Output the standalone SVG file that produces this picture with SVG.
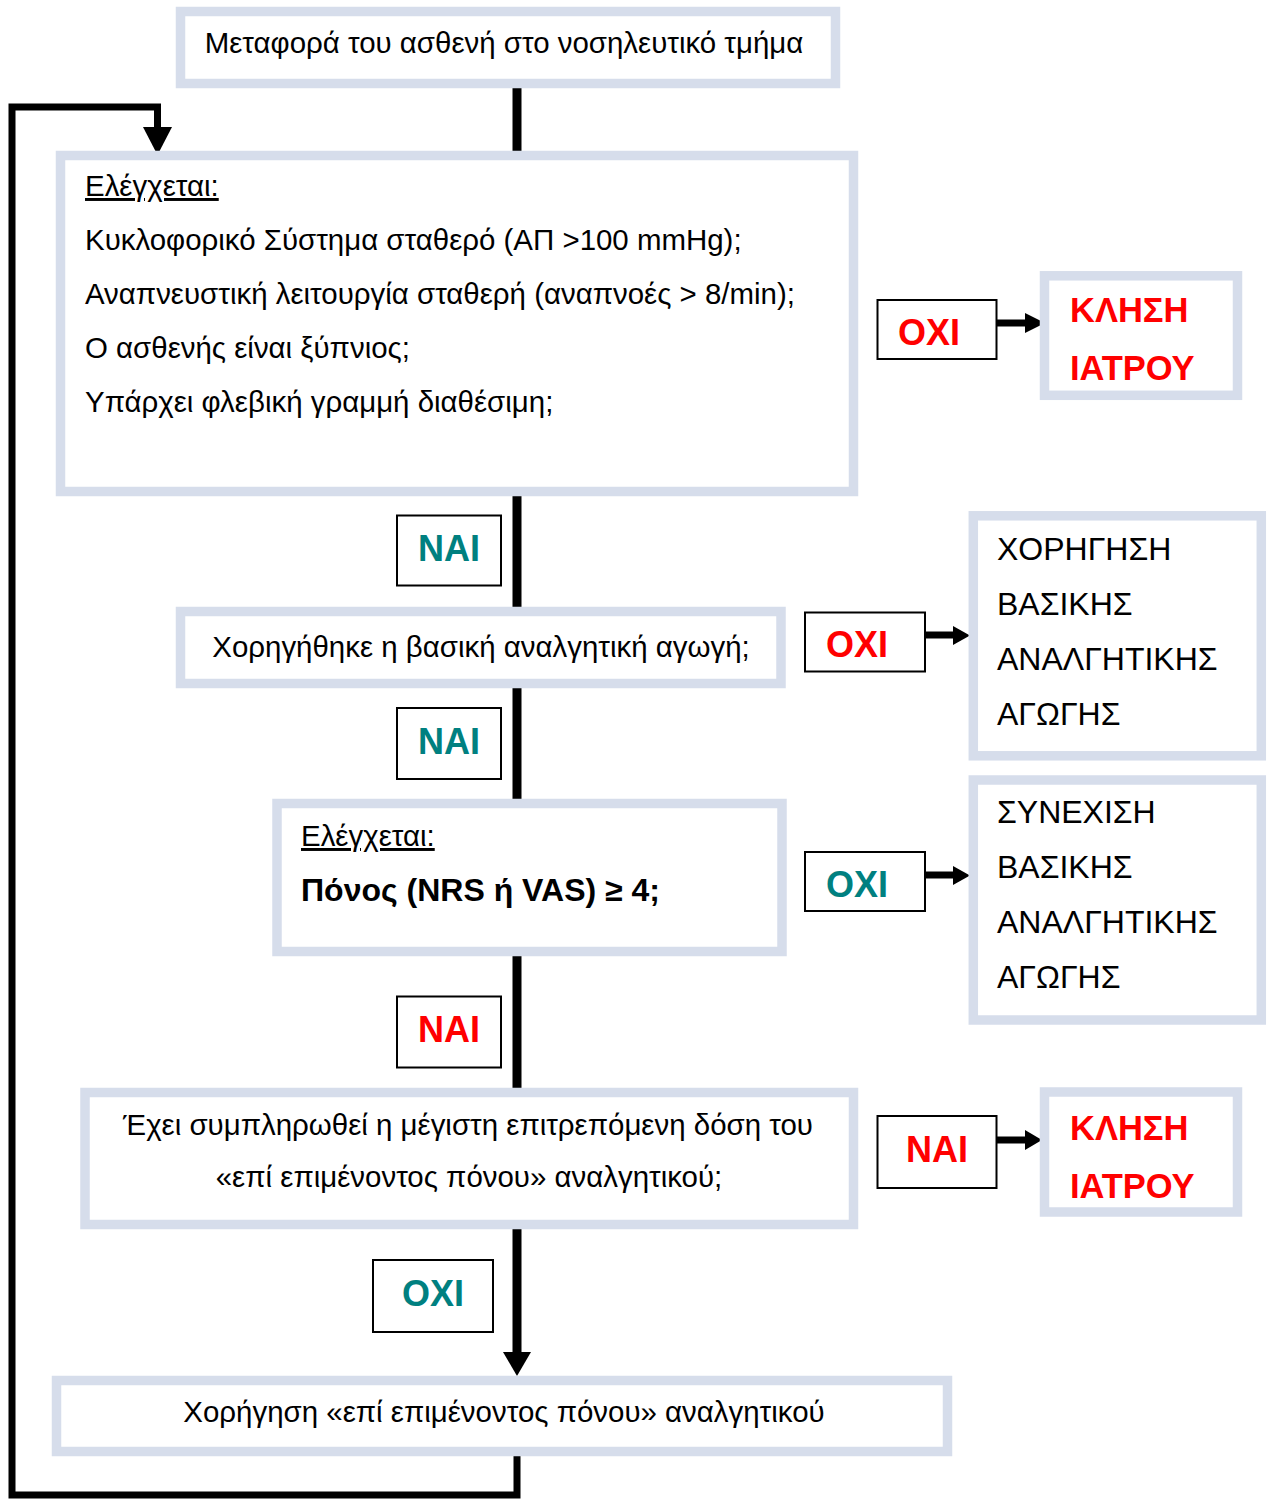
<svg xmlns="http://www.w3.org/2000/svg" width="1271" height="1499" viewBox="0 0 1271 1499">
<style>
.box{fill:#fff;stroke:#D6DDEB;stroke-width:9.5}
.lbl{fill:#fff;stroke:#000;stroke-width:2}
.t{font-family:"Liberation Sans",Arial,sans-serif;font-size:29.45px;fill:#000}
.c{font-family:"Liberation Sans",Arial,sans-serif;font-size:32px;fill:#000}
.b{font-family:"Liberation Sans",Arial,sans-serif;font-weight:bold;font-size:36px}
.k{font-family:"Liberation Sans",Arial,sans-serif;font-weight:bold;font-size:34.5px;fill:#FF0000}
.red{fill:#FF0000}.teal{fill:#008080}
.ln{fill:none;stroke:#000;stroke-width:9}
.lp{fill:none;stroke:#000;stroke-width:7}
.ha{fill:none;stroke:#000;stroke-width:7}
</style>
<rect width="1271" height="1499" fill="#fff"/>
<g id="connectors">
<path class="ln" d="M517,88 V152"/>
<path class="ln" d="M517,496 V608"/>
<path class="ln" d="M517,688 V800"/>
<path class="ln" d="M517,956 V1088"/>
<path class="ln" d="M517,1228 V1354"/>
<polygon points="503,1352 531,1352 517,1376"/>
<path class="lp" d="M517,1456 V1495 H12 V107 H157.5 V128"/>
<polygon points="143,127 172,127 157.5,155"/>
<path class="ha" d="M997,323 H1026"/>
<polygon points="1025,313 1045,323 1025,333"/>
<path class="ha" d="M926,635 H954"/>
<polygon points="953,626 970,635.5 953,645"/>
<path class="ha" d="M926,875 H954"/>
<polygon points="953,866 970,875.5 953,885"/>
<path class="ha" d="M997,1140 H1026"/>
<polygon points="1025,1130 1042,1140 1025,1150"/>
</g>
<g id="n1">
<rect class="box" x="180.5" y="11.5" width="655" height="72"/>
<text class="t" x="504" y="53" text-anchor="middle">Μεταφορά του ασθενή στο νοσηλευτικό τμήμα</text>
</g>
<g id="n2">
<rect class="box" x="60.5" y="155.5" width="793" height="336"/>
<text class="t" x="85" y="196" text-decoration="underline">Ελέγχεται:</text>
<text class="t" x="85" y="250">Κυκλοφορικό Σύστημα σταθερό (ΑΠ &gt;100 mmHg);</text>
<text class="t" x="85" y="304">Αναπνευστική λειτουργία σταθερή (αναπνοές &gt; 8/min);</text>
<text class="t" x="85" y="358">Ο ασθενής είναι ξύπνιος;</text>
<text class="t" x="85" y="412">Υπάρχει φλεβική γραμμή διαθέσιμη;</text>
</g>
<g id="l1">
<rect class="lbl" x="877.5" y="300" width="119" height="59"/>
<text class="b red" x="929" y="345" text-anchor="middle">ΟΧΙ</text>
</g>
<g id="n3">
<rect class="box" x="1044.5" y="275.8" width="193" height="119.5"/>
<text class="k" x="1070" y="322">ΚΛΗΣΗ</text>
<text class="k" x="1070" y="380">ΙΑΤΡΟΥ</text>
</g>
<g id="l2">
<rect class="lbl" x="397" y="515.5" width="104" height="70"/>
<text class="b teal" x="449" y="561" text-anchor="middle">ΝΑΙ</text>
</g>
<g id="n4">
<rect class="box" x="180.5" y="611.5" width="600.5" height="72"/>
<text class="t" x="481" y="657" text-anchor="middle">Χορηγήθηκε η βασική αναλγητική αγωγή;</text>
</g>
<g id="l3">
<rect class="lbl" x="805" y="612.5" width="120" height="59"/>
<text class="b red" x="857" y="657" text-anchor="middle">ΟΧΙ</text>
</g>
<g id="n5">
<rect class="box" x="973.3" y="515.8" width="288" height="240"/>
<text class="c" x="997" y="560">ΧΟΡΗΓΗΣΗ</text>
<text class="c" x="997" y="615">ΒΑΣΙΚΗΣ</text>
<text class="c" x="997" y="670">ΑΝΑΛΓΗΤΙΚΗΣ</text>
<text class="c" x="997" y="725">ΑΓΩΓΗΣ</text>
</g>
<g id="l4">
<rect class="lbl" x="397" y="708" width="104" height="71"/>
<text class="b teal" x="449" y="754" text-anchor="middle">ΝΑΙ</text>
</g>
<g id="n6">
<rect class="box" x="277" y="803.5" width="505" height="148"/>
<text class="t" x="301" y="846" text-decoration="underline">Ελέγχεται:</text>
<text class="c" x="301" y="901" font-weight="bold">Πόνος (NRS ή VAS) ≥ 4;</text>
</g>
<g id="l5">
<rect class="lbl" x="805" y="852" width="120" height="59"/>
<text class="b teal" x="857" y="897" text-anchor="middle">ΟΧΙ</text>
</g>
<g id="n7">
<rect class="box" x="973.3" y="780" width="288" height="240"/>
<text class="c" x="997" y="823">ΣΥΝΕΧΙΣΗ</text>
<text class="c" x="997" y="878">ΒΑΣΙΚΗΣ</text>
<text class="c" x="997" y="933">ΑΝΑΛΓΗΤΙΚΗΣ</text>
<text class="c" x="997" y="988">ΑΓΩΓΗΣ</text>
</g>
<g id="l6">
<rect class="lbl" x="397" y="996.5" width="104" height="71"/>
<text class="b red" x="449" y="1042" text-anchor="middle">ΝΑΙ</text>
</g>
<g id="n8">
<rect class="box" x="85" y="1092.5" width="768.5" height="132"/>
<text class="t" x="468" y="1135" text-anchor="middle">Έχει συμπληρωθεί η μέγιστη επιτρεπόμενη δόση του</text>
<text class="t" x="469" y="1187" text-anchor="middle">«επί επιμένοντος πόνου» αναλγητικού;</text>
</g>
<g id="l7">
<rect class="lbl" x="877.5" y="1116" width="119" height="72"/>
<text class="b red" x="937" y="1162" text-anchor="middle">ΝΑΙ</text>
</g>
<g id="n9">
<rect class="box" x="1044.5" y="1092" width="193" height="120"/>
<text class="k" x="1070" y="1140">ΚΛΗΣΗ</text>
<text class="k" x="1070" y="1198">ΙΑΤΡΟΥ</text>
</g>
<g id="l8">
<rect class="lbl" x="373" y="1260" width="120" height="72"/>
<text class="b teal" x="433" y="1306" text-anchor="middle">ΟΧΙ</text>
</g>
<g id="n10">
<rect class="box" x="56.5" y="1380.5" width="891" height="71"/>
<text class="t" x="504" y="1422" text-anchor="middle">Χορήγηση «επί επιμένοντος πόνου» αναλγητικού</text>
</g>
</svg>
